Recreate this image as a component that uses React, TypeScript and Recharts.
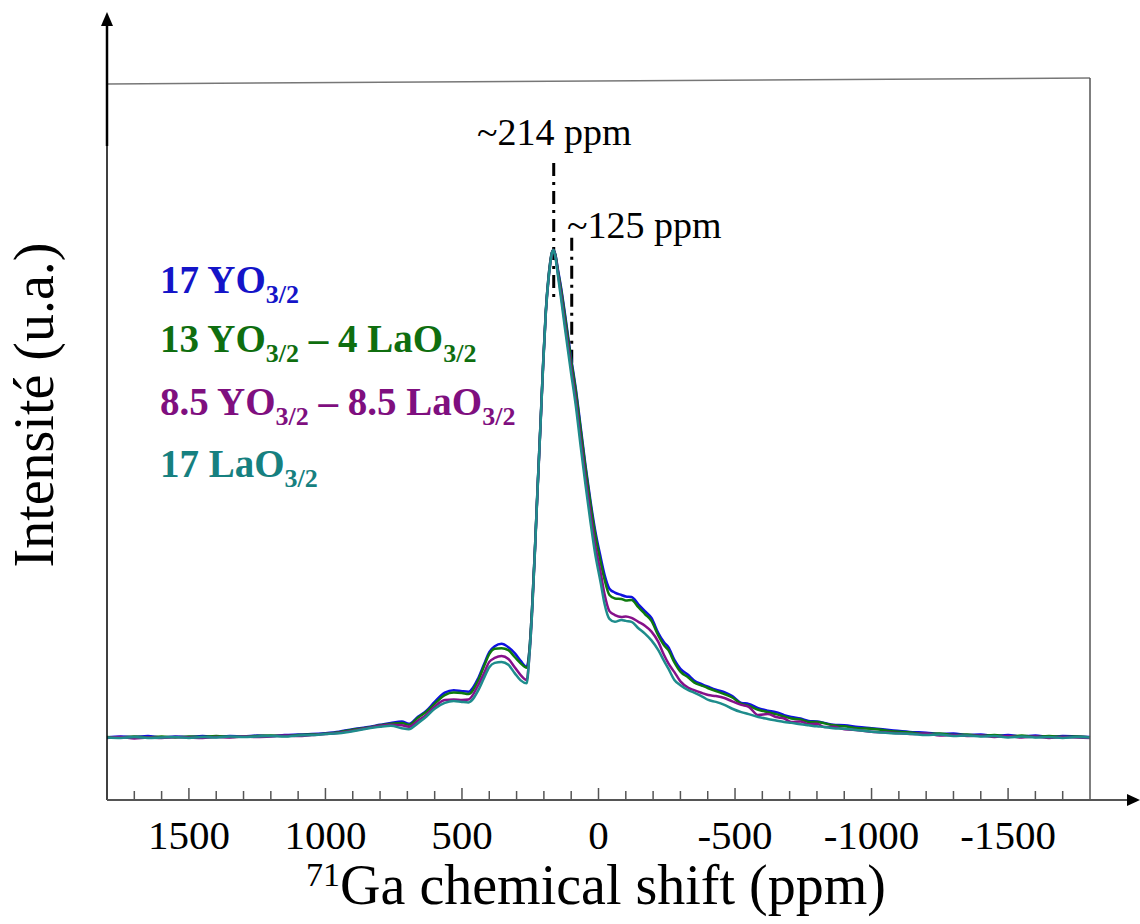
import React from 'react';
import { LineChart, Line, XAxis, YAxis, ReferenceLine } from 'recharts';

// chemical shift grid (ppm)
const ppm = [
  1800, 1750, 1700, 1650, 1600, 1550, 1500, 1450, 1400, 1350, 1300, 1250, 1200, 1150, 1100, 1050, 1000,
  950, 900, 850, 800, 760, 720, 695, 660, 630, 600, 563, 530, 500, 476, 440, 420, 400, 380, 355, 330, 307, 285, 263,
  253, 243, 233, 223, 212, 203, 193, 183, 178, 171, 165, 158, 148, 138, 123, 102, 83, 65, 48, 29, 13, -8, -22,
  -40, -60, -84, -100, -121, -146, -170, -194, -219, -240, -256, -278, -300, -329, -350, -380, -402, -430, -461, -490,
  -523, -550, -585, -620, -650, -680, -706, -740, -770, -800, -827, -860, -900, -951, -1000, -1072,
  -1150, -1200, -1250, -1300, -1350, -1400, -1450, -1500, -1550, -1600, -1650, -1700, -1750, -1800,
];

// 17 YO3/2
const s17Y = [
  0.1, 0.3, 0.2, 0.4, 0.1, 0.3, 0.2, 0.4, 0.2, 0.4, 0.3, 0.5, 0.4, 0.6, 0.7, 0.8, 1.0,
  1.3, 1.8, 2.2, 2.7, 3.1, 3.4, 2.9, 4.4, 5.6, 7.4, 9.3, 9.8, 9.6, 9.5, 12.3, 15.0, 17.6, 18.8, 19.3, 18.6, 17.4, 15.8, 14.6,
  18, 27, 38.5, 51.5, 65, 76.5, 87.5, 94.5, 97, 99.4, 100, 99.1, 95.8, 92.6, 87, 78.5, 71.5, 63.6, 56, 48.4, 42.8, 37, 33.5,
  30.6, 29.8, 29.3, 29.0, 28.9, 27.4, 26.0, 24.6, 21.5, 19.6, 18.6, 16.0, 14.2, 12.9, 11.8, 11.0, 10.5, 9.9, 9.4, 8.6,
  7.2, 7.0, 6.1, 5.6, 5.3, 4.7, 4.3, 4.0, 3.5, 3.4, 3.1, 2.7, 2.6, 2.25, 2.0, 1.6,
  1.2, 1.1, 0.8, 0.9, 0.6, 0.7, 0.4, 0.6, 0.3, 0.5, 0.2, 0.4, 0.3, 0.2,
];

// 13 YO3/2 - 4 LaO3/2
const s13Y4La = [
  0.2, 0.1, 0.3, 0.1, 0.3, 0.1, 0.3, 0.2, 0.4, 0.2, 0.3, 0.4, 0.5, 0.4, 0.6, 0.7, 0.9,
  1.2, 1.7, 2.1, 2.6, 2.9, 3.1, 2.7, 4.2, 5.4, 7.0, 8.8, 9.3, 9.2, 9.0, 11.9, 14.6, 17.2, 18.3, 18.4, 18.0, 16.6, 15.3, 14.4,
  18, 27, 38.5, 51.5, 65, 76.5, 87.5, 94.5, 97, 99.4, 100, 99, 95.5, 92.2, 86.5, 78, 71, 63, 55.5, 47.8, 42, 36, 32.5,
  29.3, 28.6, 28.5, 28.2, 28.3, 26.8, 25.4, 24.0, 21.0, 19.0, 18.0, 15.5, 13.6, 12.4, 11.4, 10.7, 10.2, 9.6, 9.0, 8.3,
  7.0, 6.6, 5.8, 5.3, 4.9, 4.4, 4.0, 3.8, 3.3, 3.3, 3.0, 2.6, 2.4, 2.0, 1.9, 1.4,
  1.1, 0.8, 0.9, 0.6, 0.7, 0.4, 0.6, 0.3, 0.5, 0.2, 0.4, 0.2, 0.3, 0.1,
];

// 8.5 YO3/2 - 8.5 LaO3/2
const s85Y85La = [
  0.0, 0.2, -0.1, 0.1, 0.0, 0.2, 0.1, 0.0, 0.2, 0.1, 0.3, 0.2, 0.3, 0.5, 0.4, 0.6, 0.8,
  1.1, 1.5, 2.0, 2.5, 2.7, 2.6, 2.3, 3.6, 4.8, 6.4, 7.8, 7.9, 7.8, 7.9, 10.9, 13.2, 15.6, 16.4, 16.8, 16.2, 14.5, 12.9, 11.9,
  17, 26, 38, 51, 64.5, 76, 87, 94, 96.5, 99.2, 100, 98.7, 95, 91.2, 85, 76.5, 69.2, 61, 53.5, 45.8, 39.8, 33.8, 29.5,
  26.0, 25.2, 24.8, 24.9, 24.6, 23.8, 23.0, 21.8, 19.7, 17.0, 15.3, 13.5, 11.6, 10.3, 9.8, 9.2, 8.8, 8.6, 8.2, 7.5,
  6.8, 6.4, 4.7, 4.9, 4.3, 4.0, 3.3, 3.4, 2.8, 2.9, 2.25, 2.3, 1.8, 1.6, 1.3, 1.1,
  0.8, 0.9, 0.5, 0.6, 0.4, 0.5, 0.2, 0.4, 0.1, 0.3, 0.0, 0.2, 0.1, 0.0,
];

// 17 LaO3/2
const s17La = [
  0.1, 0.0, 0.2, 0.0, 0.1, 0.2, 0.0, 0.2, 0.1, 0.3, 0.2, 0.3, 0.4, 0.3, 0.5, 0.6, 0.8,
  1.0, 1.4, 1.9, 2.3, 2.5, 2.0, 1.8, 3.1, 4.4, 6.0, 7.2, 7.6, 7.4, 7.3, 9.8, 12.2, 14.5, 15.4, 15.6, 15.0, 13.3, 11.8, 11.2,
  17, 26, 38, 51, 64.5, 76, 87, 94, 96.5, 99.2, 100, 98.5, 94.5, 90.4, 84, 75.4, 68, 59.6, 52, 44.1, 38, 31.8, 27.5,
  24.4, 23.8, 24.2, 24.0, 23.8, 22.5, 21.4, 20.0, 18.0, 15.8, 14.2, 11.9, 10.8, 9.8, 9.3, 8.5, 7.8, 7.4, 6.8, 6.0,
  5.3, 4.9, 4.3, 3.9, 3.6, 3.3, 3.1, 2.8, 2.6, 2.4, 2.25, 2.0, 1.9, 1.6, 1.3, 1.0,
  0.8, 0.6, 0.7, 0.4, 0.5, 0.3, 0.4, 0.1, 0.3, 0.1, 0.2, 0.0, 0.2, 0.1,
];

const xTicks = [
  1700, 1600, 1500, 1400, 1300, 1200, 1100, 1000, 900, 800, 700, 600, 500, 400, 300, 200, 100, 0,
  -100, -200, -300, -400, -500, -600, -700, -800, -900, -1000, -1100, -1200, -1300, -1400, -1500, -1600, -1700,
];

// annotation marker positions (ppm, intensity)
const marker1 = [{ x: 164, y: 117.8 }, { x: 164, y: 89.8 }];
const marker2 = [{ x: 98, y: 102.5 }, { x: 98, y: 74 }];

const COLORS = {
  y17: '#1010e0',
  y13: '#0e7a0e',
  y85: '#86108a',
  la17: '#1e8c8c',
};
const TEXT_COLORS = {
  y17: '#1414c8',
  y13: '#0f6e0f',
  y85: '#7f0f7f',
  la17: '#168080',
};

const data = ppm.map((p, i) => ({
  ppm: p,
  a: s17Y[i],
  b: s13Y4La[i],
  c: s85Y85La[i],
  d: s17La[i],
}));

const SERIF = '"Liberation Serif", "Times New Roman", serif';

const Tick = (props: any) => {
  const { x, y, payload } = props;
  const v = payload.value as number;
  const major = v % 500 === 0;
  return (
    <g>
      <line x1={x} x2={x} y1={y} y2={y - (major ? 12 : 9)} stroke="#555" strokeWidth={1.5} />
      {major && (
        <text x={x} y={y + 49} textAnchor="middle" fontFamily={SERIF} fontSize={41} fill="#000">
          {String(v)}
        </text>
      )}
    </g>
  );
};

const SUB = 26;
const SUBDY = 10;

export default function App() {
  return (
    <div style={{ position: 'absolute', left: 0, top: 0, width: 1140, height: 924, background: '#fff' }}>
      <LineChart
        width={1140}
        height={924}
        data={data}
        margin={{ top: 84, right: 50, bottom: 94, left: 107 }}
      >
        <XAxis
          dataKey="ppm"
          type="number"
          domain={[-1800, 1800]}
          reversed
          ticks={xTicks}
          interval={0}
          tick={<Tick />}
          tickLine={false}
          axisLine={false}
          tickSize={0}
          tickMargin={0}
          height={30}
        />
        <YAxis hide type="number" domain={[-12.7, 134]} />
        <ReferenceLine segment={marker1} stroke="#000" strokeWidth={3} strokeDasharray="13 6 3 6" />
        <ReferenceLine segment={marker2} stroke="#000" strokeWidth={3} strokeDasharray="13 6 3 6" />
        <Line type="monotone" dataKey="a" stroke={COLORS.y17} strokeWidth={2.5} dot={false} isAnimationActive={false} />
        <Line type="monotone" dataKey="b" stroke={COLORS.y13} strokeWidth={2.5} dot={false} isAnimationActive={false} />
        <Line type="monotone" dataKey="c" stroke={COLORS.y85} strokeWidth={2.5} dot={false} isAnimationActive={false} />
        <Line type="monotone" dataKey="d" stroke={COLORS.la17} strokeWidth={2.5} dot={false} isAnimationActive={false} />
      </LineChart>
      <svg
        width={1140}
        height={924}
        style={{ position: 'absolute', left: 0, top: 0, pointerEvents: 'none' }}
      >
        {/* frame */}
        <line x1={107} y1={84} x2={1090} y2={78} stroke="#777" strokeWidth={1.5} />
        <line x1={1090} y1={78} x2={1090} y2={800} stroke="#555" strokeWidth={1.5} />
        {/* y axis */}
        <line x1={107} y1={22} x2={107} y2={800} stroke="#000" strokeWidth={1.5} />
        <line x1={107} y1={22} x2={107} y2={146} stroke="#000" strokeWidth={2.5} />
        <polygon points="107,12 101,26 113,26" fill="#000" />
        {/* x axis */}
        <line x1={107} y1={800} x2={1130} y2={800} stroke="#555" strokeWidth={2} />
        <polygon points="1140,800 1127,794 1127,806" fill="#000" />

        {/* axis titles */}
        <text x={596} y={904} textAnchor="middle" fontFamily={SERIF} fontSize={56} fill="#000">
          <tspan fontSize={34} dy={-18}>71</tspan>
          <tspan dy={18}>Ga chemical shift (ppm)</tspan>
        </text>
        <text
          x={53}
          y={405}
          textAnchor="middle"
          fontFamily={SERIF}
          fontSize={56}
          fill="#000"
          transform="rotate(-90, 53, 405)"
        >
          Intensité (u.a.)
        </text>

        {/* annotations */}
        <text x={477} y={145} fontFamily={SERIF} fontSize={38} fill="#000">~214 ppm</text>
        <text x={567} y={238} fontFamily={SERIF} fontSize={38} fill="#000">~125 ppm</text>

        {/* legend */}
        <g fontFamily={SERIF} fontWeight="bold" fontSize={39}>
          <text x={160} y={293} fill={TEXT_COLORS.y17}>
            17 YO<tspan fontSize={SUB} dy={SUBDY}>3/2</tspan>
          </text>
          <text x={160} y={352} fill={TEXT_COLORS.y13}>
            13 YO<tspan fontSize={SUB} dy={SUBDY}>3/2</tspan>
            <tspan dy={-SUBDY}> – 4 LaO</tspan>
            <tspan fontSize={SUB} dy={SUBDY}>3/2</tspan>
          </text>
          <text x={160} y={415} fill={TEXT_COLORS.y85}>
            8.5 YO<tspan fontSize={SUB} dy={SUBDY}>3/2</tspan>
            <tspan dy={-SUBDY}> – 8.5 LaO</tspan>
            <tspan fontSize={SUB} dy={SUBDY}>3/2</tspan>
          </text>
          <text x={160} y={477} fill={TEXT_COLORS.la17}>
            17 LaO<tspan fontSize={SUB} dy={SUBDY}>3/2</tspan>
          </text>
        </g>
      </svg>
    </div>
  );
}
